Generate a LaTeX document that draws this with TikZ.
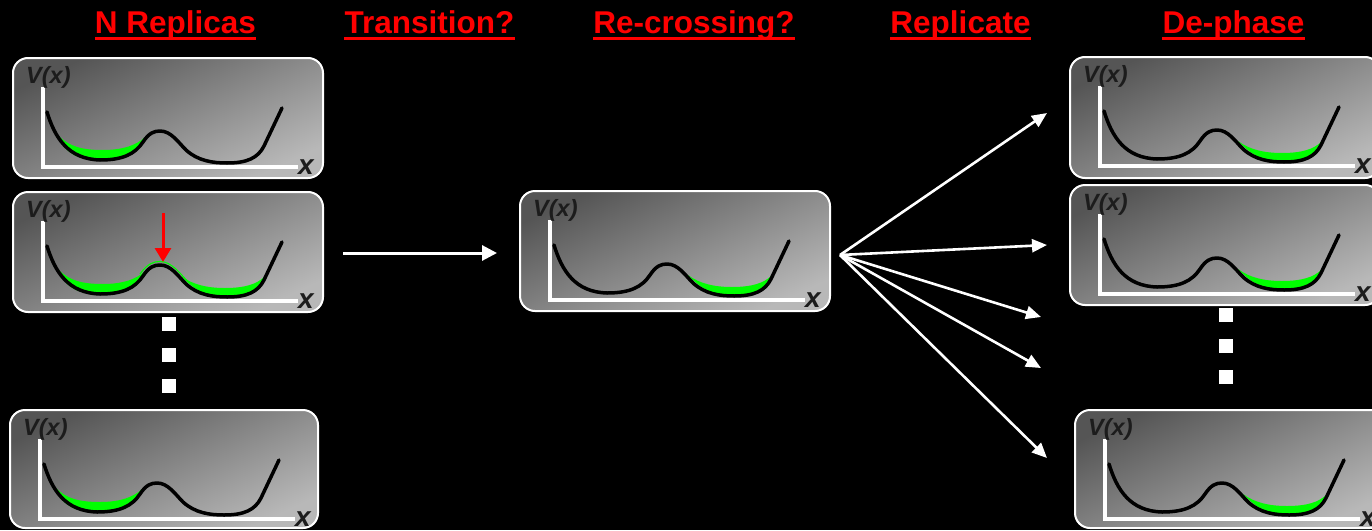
\documentclass[tikz,border=0pt]{standalone}
\usepackage{fontspec}
\setmainfont{Liberation Sans}
\usetikzlibrary{arrows.meta}

\definecolor{titlered}{HTML}{FF0000}
\definecolor{labelgray}{HTML}{1C1C1C}
\definecolor{paneldark}{HTML}{555555}
\definecolor{panellight}{HTML}{B8B8B8}
\definecolor{walkgreen}{HTML}{00FF00}

\tikzset{
  x=1pt, y=1pt,
  panel/.style={draw=white, line width=2pt, rounded corners=15pt,
    minimum width=310pt, minimum height=120pt, inner sep=0pt, outer sep=0pt,
    anchor=north west, top color=paneldark, bottom color=panellight,
    shading angle=25},
  title/.style={text=titlered, font=\bfseries\fontsize{31.5}{36}\selectfont,
    inner sep=0pt, anchor=base},
  underline/.style={draw=titlered, line width=3pt},
  axisline/.style={draw=white, line width=3.6pt},
  potline/.style={draw=black, line width=3.5pt, line cap=round, line join=round},
  vlabel/.style={text=labelgray, font=\bfseries\itshape\fontsize{23.5}{28}\selectfont,
    inner sep=0pt, anchor=base west},
  xlabel/.style={text=labelgray, font=\bfseries\itshape\fontsize{28}{32}\selectfont,
    inner sep=0pt, anchor=base west},
  wellcurve/.style={insert path={(34,-54) .. controls (42,-80) and (55,-101) .. (87,-102)
    .. controls (110,-102) and (122,-96) .. (130,-84)
    .. controls (136,-75) and (141,-73) .. (147,-73)
    .. controls (158,-73) and (165,-84) .. (173,-92)
    .. controls (185,-103) and (200,-105) .. (214,-105)
    .. controls (234,-105) and (245,-100) .. (251,-88) -- (269,-50)}},
  flow/.style={draw=white, line width=3pt, -{Triangle[length=15pt,width=15pt]}},
  fan/.style={draw=white, line width=2.6pt, -{Triangle[length=15pt,width=13pt]}},
  probe/.style={draw=titlered, line width=3pt, -{Triangle[length=14pt,width=16pt]}},
  dot/.style={fill=white, minimum size=14pt, inner sep=0pt}
}

% replicas sitting in the left well
\newcommand\leftwell{%
  \fill[walkgreen] (45,-77) .. controls (56,-89) and (70,-92) .. (90,-92)
    .. controls (110,-92) and (124,-87) .. (132,-79)
    .. controls (124,-94) and (110,-102) .. (87,-102)
    .. controls (65,-102) and (52,-96) .. (45,-77) -- cycle;}
% replicas sitting in the right well
\newcommand\rightwell{%
  \fill[walkgreen] (168,-84) .. controls (180,-93) and (195,-96) .. (212,-96)
    .. controls (232,-96) and (244,-92) .. (251,-85) -- (251,-88)
    .. controls (245,-100) and (234,-105) .. (214,-105)
    .. controls (195,-105) and (182,-99) .. (168,-84) -- cycle;}
% trajectories passing over the barrier
\newcommand\overbarrier{%
  \draw[walkgreen, line width=1.1pt] (127,-82) .. controls (135,-71) and (141,-69.5) .. (147,-69.5)
    .. controls (158,-69.5) and (166,-80) .. (176,-91);}

% axes, potential and labels inside panel #1; #2 is drawn underneath the curve
\newcommand\potpanel[2]{%
  \begin{scope}[shift={(#1.north west)}]
    #2
    \draw[axisline] (30,-29) -- (30,-109) -- (285,-109);
    \draw[potline, wellcurve];
    \node[vlabel] (#1-v) at (13,-25.5) {V(x)};
    \node[xlabel] (#1-x) at (285,-116) {x};
  \end{scope}}

\begin{document}
\begin{tikzpicture}
  \useasboundingbox (0,0) rectangle (1372,-530);
  \clip (0,0) rectangle (1372,-530);
  \fill[black] (0,0) rectangle (1372,-530);

  % column headings
  \node[title] (t1) at (175.5,-33) {N Replicas};
  \node[title] (t2) at (429.5,-33) {Transition?};
  \node[title] (t3) at (694,-33) {Re-crossing?};
  \node[title] (t4) at (960.5,-33) {Replicate};
  \node[title] (t5) at (1233.5,-33) {De-phase};
  \foreach \t in {t1,t2,t3,t4,t5}
    \draw[underline] ([yshift=-5.7pt]\t.base west) -- ([yshift=-5.7pt]\t.base east);

  % panels
  \node[panel] (L1) at (13,-58) {};
  \node[panel] (L2) at (13,-192) {};
  \node[panel, minimum width=308pt, minimum height=118pt] (L3) at (10,-410) {};
  \node[panel] (C) at (520,-191) {};
  \node[panel, minimum height=121pt] (R1) at (1070,-57) {};
  \node[panel] (R2) at (1070,-185) {};
  \node[panel, minimum height=118pt] (R3) at (1075,-410) {};

  \potpanel{L1}{\leftwell}
  \potpanel{L2}{\leftwell\rightwell\overbarrier}
  \potpanel{L3}{\leftwell}
  \potpanel{C}{\rightwell}
  \potpanel{R1}{\rightwell}
  \potpanel{R2}{\rightwell}
  \potpanel{R3}{\rightwell}

  % barrier-crossing probe
  \coordinate (p0) at ([shift={(150,-21)}]L2.north west);
  \coordinate (p1) at ([shift={(150,-70)}]L2.north west);
  \draw[probe] (p0) -- (p1);

  % ellipses between replicas
  \node[dot] (dl1) at (169,-324) {};
  \node[dot] (dl2) at (169,-355) {};
  \node[dot] (dl3) at (169,-386) {};
  \node[dot] (dr1) at (1226,-315) {};
  \node[dot] (dr2) at (1226,-346) {};
  \node[dot] (dr3) at (1226,-377) {};

  % transition arrow
  \coordinate (h0) at (343,-253);
  \coordinate (h1) at (497,-253);
  \draw[flow] (h0) -- (h1);

  % replication fan
  \coordinate (f0) at (840,-255);
  \coordinate (f1) at (1047,-113);
  \coordinate (f2) at (1047,-245);
  \coordinate (f3) at (1041,-317);
  \coordinate (f4) at (1041,-368);
  \coordinate (f5) at (1047,-458);
  \foreach \e in {f1,f2,f3,f4,f5}
    \draw[fan] (f0) -- (\e);
\end{tikzpicture}
\end{document}
